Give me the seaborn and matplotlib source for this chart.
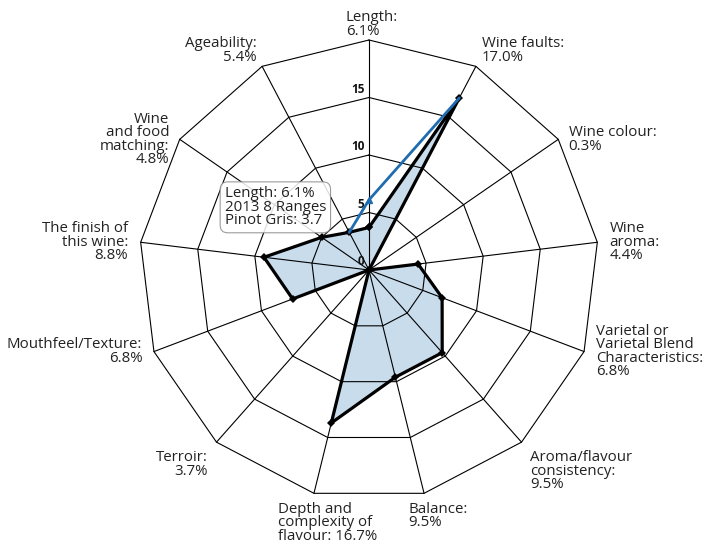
import numpy as np
import pandas as pd
import matplotlib
matplotlib.use("Agg")
import matplotlib.pyplot as plt
import seaborn as sns

## categories (clockwise from top) and their share labels
categories = ["Length:", "Wine faults:", "Wine colour:", "Wine\naroma:",
              "Varietal or\nVarietal Blend\nCharacteristics:",
              "Aroma/flavour\nconsistency:", "Balance:",
              "Depth and\ncomplexity of\nflavour:", "Terroir:",
              "Mouthfeel/Texture:", "The finish of\nthis wine:",
              "Wine\nand food\nmatching:", "Ageability:"]
shares = ["6.1%", "17.0%", "0.3%", "4.4%", "6.8%", "9.5%", "9.5%",
          "16.7%", "3.7%", "6.8%", "8.8%", "4.8%", "5.4%"]

## series values
pinot_gris = [3.7, 16.9, 0.0, 4.3, 6.8, 9.6, 9.6, 13.7, 0.0, 7.1, 9.2, 5.0, 3.7]
## partly drawn highlight line (Ageability -> Length -> Wine faults)
highlight_idx = [12, 0, 1]
highlight_vals = [3.7, 6.1, 16.9]

ring_levels = [5, 10, 15, 20]
tick_levels = [0, 5, 10, 15]

tooltip = "Length: 6.1%\n2013 8 Ranges\nPinot Gris: 3.7"

sns.set_theme(style="white")
plt.rcParams["font.family"] = ["Open Sans", "DejaVu Sans"]

n = len(categories)
theta = np.arange(n) * 2 * np.pi / n
sx, cy = np.sin(theta), np.cos(theta)

fig = plt.figure(figsize=(7.02, 5.49), dpi=100)
ax = fig.add_axes([0, 0, 1, 1])
px = 11.5  # pixels per unit
ax.set_xlim(-369 / px, 333 / px)
ax.set_ylim(-279 / px, 270 / px)
ax.axis("off")

## fill of the series (under the grid)
vals = np.array(pinot_gris)
ax.fill(vals * sx, vals * cy, color="#c9dcec", zorder=1, lw=0)

## polygon rings and spokes
for r in ring_levels:
    ax.plot(np.append(r * sx, r * sx[0]), np.append(r * cy, r * cy[0]),
            color="black", lw=0.8, zorder=2)
for i in range(n):
    ax.plot([0, 20 * sx[i]], [0, 20 * cy[i]], color="black", lw=0.8, zorder=2)

## radial tick labels
for t in tick_levels:
    ax.text(-0.4, t + 0.15, str(t), ha="right", va="bottom", fontsize=8.5,
            fontweight="bold", color="#111111", zorder=3)

## series line
df = pd.DataFrame({"x": np.append(vals * sx, vals[0] * sx[0]),
                   "y": np.append(vals * cy, vals[0] * cy[0])})
sns.lineplot(data=df, x="x", y="y", sort=False, estimator=None, color="black",
             lw=2.3, marker="D", markersize=4, markeredgewidth=0, ax=ax, zorder=4)

## highlight line in blue
hv = np.array(highlight_vals)
hx = hv * sx[highlight_idx]
hy = hv * cy[highlight_idx]
ax.plot(hx, hy, color="#1f6db0", lw=2, zorder=5)
ax.plot(hx[1], hy[1], marker="^", color="#1f6db0", markersize=4, zorder=5)

## category labels
for i in range(n):
    s, c = sx[i], cy[i]
    ha = "left" if s > 0.3 else ("right" if s < -0.3 else "center")
    va = "bottom" if c > 0.6 else ("top" if c < -0.6 else "center")
    txt = categories[i] + (" " if categories[i].startswith("Depth") else "\n") + shares[i]
    if ha != "center":
        dx = 9 * s
    else:
        dx = 10 if va == "top" else 2
    dy = 1 if va == "bottom" else (-6 if va == "top" else 0)
    ax.annotate(txt, (20 * s, 20 * c), xytext=(dx, dy), textcoords="offset points",
                ha=ha, va=va, fontsize=10.8, color="#222222", linespacing=0.86,
                multialignment="left" if ha != "right" else "right")

## tooltip
ax.text(-12.55, 5.45, tooltip, ha="left", va="center", fontsize=10.8,
        color="#222222", linespacing=0.86, zorder=6,
        bbox=dict(boxstyle="round,pad=0.3,rounding_size=0.5", fc="white",
                  ec="#8a8a8a", lw=0.8, alpha=0.85))

fig.savefig("out.png", dpi=100)
